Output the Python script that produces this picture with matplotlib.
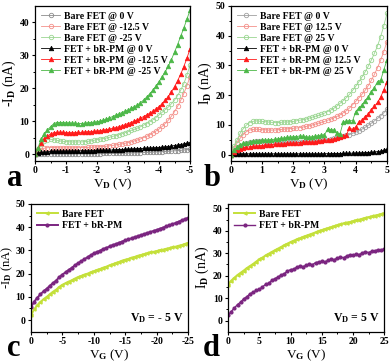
import matplotlib
matplotlib.use("Agg")
import matplotlib.pyplot as plt
import numpy as np

plt.rcParams['font.family'] = 'Liberation Serif'
plt.rcParams['font.weight'] = 'bold'
plt.rcParams['axes.unicode_minus'] = False
plt.rcParams['mathtext.fontset'] = 'custom'
plt.rcParams['mathtext.rm'] = 'Liberation Serif:bold'
plt.rcParams['mathtext.it'] = 'Liberation Serif:bold'
plt.rcParams['mathtext.bf'] = 'Liberation Serif:bold'

# drain voltage grid (0.1 V steps) for panels a and b
vd = np.linspace(0, 5, 51)
# gate voltage grid (0.5 V steps) for panels c and d
vg = np.linspace(0, 25, 51)

# ---- panel a : -ID vs VD (negative gate) ----
a_bare_0 = [0, 0.05, 0.08, 0.1, 0.1, 0.1, 0.1, 0.1, 0.1, 0.1, 0.1,
            0.1, 0.1, 0.12, 0.12, 0.12, 0.15, 0.15, 0.15, 0.15, 0.18,
            0.18, 0.2, 0.2, 0.22, 0.25, 0.25, 0.28, 0.3, 0.32, 0.35,
            0.38, 0.4, 0.42, 0.45, 0.5, 0.52, 0.56, 0.6, 0.65, 0.7,
            0.75, 0.8, 0.85, 0.92, 1.0, 1.08, 1.15, 1.25, 1.35, 1.5]
a_bare_125 = [0, 0.8, 1.4, 1.8, 1.95, 2.0, 2.0, 1.95, 1.9, 1.9, 1.9,
              1.9, 1.9, 1.95, 1.95, 2.0, 2.0, 2.05, 2.1, 2.15, 2.2,
              2.25, 2.3, 2.4, 2.5, 2.65, 2.8, 2.95, 3.1, 3.3, 3.5,
              3.75, 4.0, 4.3, 4.6, 5.0, 5.4, 5.9, 6.4, 7.0, 7.6,
              8.4, 9.3, 10.3, 11.5, 12.9, 14.5, 16.3, 18.4, 20.8, 23.5]
a_bare_25 = [0, 1.5, 3.0, 4.0, 4.4, 4.5, 4.4, 4.2, 4.0, 3.9, 3.8,
             3.75, 3.7, 3.7, 3.7, 3.7, 3.8, 3.9, 4.0, 4.2, 4.4,
             4.6, 4.7, 4.9, 5.1, 5.4, 5.6, 5.9, 6.2, 6.5, 6.8,
             7.2, 7.5, 7.9, 8.3, 8.8, 9.3, 9.8, 10.4, 11.1, 11.9,
             12.7, 13.5, 14.3, 15.3, 16.4, 17.8, 19.4, 21.4, 24.0, 27.0]
a_br_0 = [0, 0.3, 0.5, 0.6, 0.7, 0.8, 0.8, 0.85, 0.85, 0.9, 0.9,
          0.9, 0.95, 0.95, 0.95, 1.0, 1.0, 1.0, 1.05, 1.05, 1.1,
          1.1, 1.15, 1.2, 1.2, 1.25, 1.3, 1.35, 1.4, 1.45, 1.5,
          1.55, 1.6, 1.65, 1.7, 1.75, 1.8, 1.85, 1.9, 1.95, 2.0,
          2.1, 2.2, 2.3, 2.45, 2.6, 2.75, 2.9, 3.1, 3.3, 3.5]
a_br_125 = [0, 1.8, 3.5, 4.7, 5.5, 6.1, 6.5, 6.6, 6.6, 6.6, 6.5,
            6.5, 6.5, 6.5, 6.6, 6.6, 6.7, 6.8, 6.8, 6.9, 7.0,
            7.1, 7.3, 7.4, 7.6, 7.8, 8.0, 8.3, 8.6, 8.9, 9.3,
            9.6, 10.0, 10.4, 10.9, 11.4, 11.9, 12.4, 13.0, 13.7, 14.4,
            15.3, 16.3, 17.5, 18.9, 20.5, 22.3, 24.3, 26.6, 29.1, 32.0]
a_br_25 = [0, 2.0, 4.5, 6.0, 7.3, 8.3, 9.2, 9.6, 9.6, 9.6, 9.5,
           9.5, 9.4, 9.4, 9.3, 9.3, 9.4, 9.5, 9.6, 9.7, 9.8,
           10.0, 10.3, 10.6, 11.0, 11.4, 11.8, 12.2, 12.6, 13.0, 13.4,
           13.9, 14.4, 14.9, 15.6, 16.4, 17.3, 18.3, 19.4, 20.6, 22.0,
           23.5, 25.0, 26.7, 28.7, 31.0, 33.3, 35.8, 38.3, 41.0, 43.7]

# ---- panel b : ID vs VD (positive gate) ----
b_bare_0 = [0, 1.1, 2.0, 2.8, 3.4, 3.9, 4.2, 4.4, 4.5, 4.5, 4.5,
            4.4, 4.4, 4.3, 4.2, 4.1, 4.1, 4.1, 4.2, 4.2, 4.2,
            4.3, 4.3, 4.4, 4.4, 4.5, 4.6, 4.7, 4.8, 4.9, 5.0,
            5.1, 5.3, 5.5, 5.7, 5.9, 6.2, 6.5, 6.8, 7.2, 7.6,
            8.1, 8.6, 9.2, 9.9, 10.6, 11.4, 12.2, 13.1, 14.1, 15.3]
b_bare_125 = [0, 2.2, 4.0, 5.6, 6.8, 7.8, 8.3, 8.5, 8.6, 8.5, 8.4,
              8.4, 8.3, 8.3, 8.3, 8.4, 8.5, 8.6, 8.7, 8.8, 8.9,
              9.0, 9.1, 9.3, 9.5, 9.7, 10.0, 10.3, 10.6, 10.9, 11.2,
              11.6, 12.0, 12.4, 12.9, 13.4, 14.1, 14.8, 15.7, 16.8, 17.9,
              19.1, 20.3, 21.6, 23.2, 25.0, 27.0, 29.3, 31.8, 34.7, 38.0]
b_bare_25 = [0, 2.8, 5.0, 7.3, 8.8, 10.0, 10.8, 11.2, 11.4, 11.3, 11.2,
             11.1, 11.0, 10.9, 10.8, 10.8, 10.9, 11.0, 11.0, 11.1, 11.2,
             11.4, 11.6, 11.8, 12.0, 12.3, 12.6, 12.9, 13.2, 13.6, 14.0,
             14.5, 15.0, 15.6, 16.4, 17.3, 18.2, 19.2, 20.3, 21.6, 23.0,
             24.5, 26.1, 27.8, 29.7, 31.8, 34.1, 36.6, 39.7, 43.3, 47.5]
b_br_0 = [0, 0.2, 0.25, 0.3, 0.3, 0.3, 0.3, 0.3, 0.3, 0.3, 0.3,
          0.3, 0.3, 0.3, 0.3, 0.3, 0.3, 0.3, 0.3, 0.3, 0.3,
          0.3, 0.3, 0.3, 0.3, 0.3, 0.3, 0.3, 0.3, 0.32, 0.35,
          0.35, 0.37, 0.4, 0.4, 0.42, 0.45, 0.48, 0.5, 0.52, 0.55,
          0.6, 0.65, 0.7, 0.75, 0.8, 0.9, 1.05, 1.2, 1.45, 1.8]
b_br_125 = [0, 1.0, 1.7, 2.0, 2.3, 2.5, 2.7, 2.8, 2.9, 3.0, 3.1,
            3.2, 3.3, 3.4, 3.5, 3.6, 3.6, 3.7, 3.8, 3.8, 3.9,
            4.0, 4.1, 4.2, 4.3, 4.3, 4.2, 4.3, 4.5, 4.7, 4.8,
            4.9, 5.1, 5.3, 5.6, 6.0, 6.2, 6.6, 9.0, 8.5, 9.3,
            11.0, 11.6, 12.8, 13.6, 15.0, 16.3, 17.6, 19.4, 21.8, 24.6]
b_br_25 = [0, 1.7, 2.6, 3.4, 3.8, 4.1, 4.3, 4.5, 4.6, 4.7, 4.8,
           4.9, 5.0, 5.1, 5.2, 5.3, 5.5, 5.6, 5.8, 5.9, 6.0,
           6.1, 6.3, 6.2, 6.0, 5.9, 6.0, 6.2, 6.4, 6.6, 6.7,
           8.6, 8.4, 8.3, 7.2, 7.1, 11.0, 11.2, 11.5, 11.4, 14.5,
           15.8, 16.6, 18.2, 19.4, 21.2, 22.6, 24.6, 25.0, 28.5, 31.8]

# ---- panel c : -ID vs VG at VD = -5 V ----
c_bare = [2.0, 4.6, 6.4, 7.8, 9.0, 10.0,
          11.1, 12.2, 13.1, 14.3, 15.2,
          15.9, 16.6, 17.1, 17.9, 18.5,
          19.0, 19.6, 20.0, 20.6, 21.0,
          21.6, 22.0, 22.6, 23.0, 23.6,
          24.0, 24.6, 25.0, 25.6, 26.0,
          26.3, 26.9, 27.2, 27.7, 28.0,
          28.4, 28.7, 29.1, 29.4, 29.7,
          30.1, 30.3, 30.7, 30.9, 31.3,
          31.6, 32.0, 32.3, 32.8, 33.2]
c_br = [5.5, 7.9, 9.6, 11.1, 12.4, 13.5,
        14.8, 15.9, 17.0, 18.5, 19.6,
        20.6, 21.6, 22.5, 23.6, 24.5,
        25.4, 26.2, 27.1, 27.9, 28.7,
        29.3, 29.9, 30.6, 31.1, 31.7,
        32.3, 32.7, 33.3, 33.8, 34.3,
        34.8, 35.2, 35.7, 36.1, 36.6,
        37.0, 37.5, 37.9, 38.4, 38.8,
        39.3, 39.8, 40.3, 40.8, 41.3,
        41.8, 42.4, 42.9, 43.5, 44.0]

# ---- panel d : ID vs VG at VD = 5 V ----
d_bare = [16.0, 17.8, 19.1, 20.3, 21.3, 22.3,
          23.4, 24.3, 25.2, 26.3, 27.3,
          28.1, 29.0, 29.8, 30.6, 31.3,
          32.1, 32.8, 33.6, 34.3, 35.0,
          35.6, 36.2, 36.6, 37.3, 37.8,
          38.3, 38.8, 39.3, 39.9, 40.3,
          40.8, 41.2, 41.6, 42.1, 42.5,
          42.9, 43.3, 43.7, 43.9, 44.3,
          44.7, 45.0, 45.4, 45.8, 46.1,
          46.4, 46.8, 47.1, 47.5, 47.8]
d_br = [2.5, 4.0, 5.6, 7.1, 8.2, 9.7,
        10.6, 11.9, 12.6, 13.4, 13.9,
        15.0, 16.1, 16.6, 17.9, 18.7,
        19.4, 20.3, 20.9, 22.0, 22.7,
        22.9, 23.8, 24.3, 24.0, 24.6,
        25.2, 24.9, 25.8, 26.1, 26.4,
        26.0, 26.9, 27.4, 27.1, 27.9,
        28.3, 28.0, 28.8, 29.3, 29.1,
        29.6, 29.4, 30.1, 30.7, 30.3,
        30.9, 31.0, 31.6, 31.3, 32.0]

gray = '#8c8c8c'
salmon = '#f4908a'
lgreen = '#9ad691'
red = '#ff1a1a'
green = '#4cb848'
lime = '#c4e03a'
purple = '#7b2580'

fig = plt.figure(figsize=(3.92, 3.63), dpi=100)
axa = fig.add_axes([0.0893, 0.5573, 0.3954, 0.4262])
axb = fig.add_axes([0.589, 0.5573, 0.398, 0.4262])
axc = fig.add_axes([0.079, 0.0862, 0.401, 0.352])
axd = fig.add_axes([0.582, 0.0862, 0.398, 0.352])


def style(ax):
    ax.tick_params(direction='out', length=2.5, width=0.8, labelsize=7, pad=1.5)
    ax.tick_params(which='minor', direction='out', length=1.5, width=0.7)
    for s in ax.spines.values():
        s.set_linewidth(0.9)
    for lab in ax.get_xticklabels() + ax.get_yticklabels():
        lab.set_fontweight('bold')


def ivcurve(ax, x, y, c, m, lbl):
    filled = m == '^'
    ax.plot(x, y, color=c, lw=0.6, marker=m, ms=3.2, mew=0.6,
            mfc=c if filled else 'none', mec=c, label=lbl)


# panel a
neg = -vd
ivcurve(axa, neg, a_bare_0, gray, 'o', 'Bare FET @ 0 V')
ivcurve(axa, neg, a_bare_125, salmon, 'o', 'Bare FET @ -12.5 V')
ivcurve(axa, neg, a_bare_25, lgreen, 'o', 'Bare FET @ -25 V')
ivcurve(axa, neg, a_br_0, 'black', '^', 'FET + bR-PM @ 0 V')
ivcurve(axa, neg, a_br_125, red, '^', 'FET + bR-PM @ -12.5 V')
ivcurve(axa, neg, a_br_25, green, '^', 'FET + bR-PM @ -25 V')
axa.set_xlim(0, -5)
axa.set_ylim(-2, 45)
axa.set_xticks([0, -1, -2, -3, -4, -5])
axa.set_xticks(np.arange(-0.5, -5, -1), minor=True)
axa.set_yticks([0, 10, 20, 30, 40])
axa.set_yticks([5, 15, 25, 35], minor=True)
axa.set_xlabel(r'V$_\mathrm{D}$ (V)', fontsize=9.5, labelpad=1)
axa.set_ylabel(r'-I$_\mathrm{D}$ (nA)', fontsize=10, labelpad=1)
style(axa)
axa.legend(loc='upper left', frameon=False, handlelength=2.0,
           handletextpad=0.4, labelspacing=0.2, borderaxespad=0.2,
           prop={'weight': 'bold', 'size': 7})

# panel b
ivcurve(axb, vd, b_bare_0, '#a0a0a0', 'o', 'Bare FET @ 0 V')
ivcurve(axb, vd, b_bare_125, salmon, 'o', 'Bare FET @ 12.5 V')
ivcurve(axb, vd, b_bare_25, lgreen, 'o', 'Bare FET @ 25 V')
ivcurve(axb, vd, b_br_0, 'black', '^', 'FET + bR-PM @ 0 V')
ivcurve(axb, vd, b_br_125, red, '^', 'FET + bR-PM @ 12.5 V')
ivcurve(axb, vd, b_br_25, green, '^', 'FET + bR-PM @ 25 V')
axb.set_xlim(0, 5)
axb.set_ylim(-2, 50)
axb.set_xticks([0, 1, 2, 3, 4, 5])
axb.set_xticks(np.arange(0.5, 5, 1), minor=True)
axb.set_yticks([0, 10, 20, 30, 40, 50])
axb.set_yticks([5, 15, 25, 35, 45], minor=True)
axb.set_xlabel(r'V$_\mathrm{D}$ (V)', fontsize=9.5, labelpad=1)
axb.set_ylabel(r'I$_\mathrm{D}$ (nA)', fontsize=10, labelpad=1)
style(axb)
axb.legend(loc='upper left', frameon=False, handlelength=2.0,
           handletextpad=0.4, labelspacing=0.2, borderaxespad=0.2,
           prop={'weight': 'bold', 'size': 7})

# panel c
axc.plot(-vg, c_bare, color=lime, lw=1.4, marker='<', ms=2.2, label='Bare FET')
axc.plot(-vg, c_br, color=purple, lw=1.4, marker='o', ms=2.0, label='FET + bR-PM')
axc.set_xlim(0, -25)
axc.set_ylim(-5, 50)
axc.set_xticks([0, -5, -10, -15, -20, -25])
axc.set_xticks(np.arange(-2.5, -25, -5), minor=True)
axc.set_yticks([0, 10, 20, 30, 40, 50])
axc.set_yticks([5, 15, 25, 35, 45], minor=True)
axc.set_xlabel(r'V$_\mathrm{G}$ (V)', fontsize=9.5, labelpad=1)
axc.set_ylabel(r'-I$_\mathrm{D}$ (nA)', fontsize=9)
axc.yaxis.set_label_coords(-0.1, 0.5)
axc.text(0.97, 0.05, r'V$_\mathrm{D}$ = - 5 V', transform=axc.transAxes,
         ha='right', va='bottom', fontsize=8.5, fontweight='bold')
style(axc)
axc.legend(loc='upper left', frameon=False, handlelength=2.2,
           handletextpad=0.4, labelspacing=0.25, borderaxespad=0.2,
           prop={'weight': 'bold', 'size': 7})

# panel d
axd.plot(vg, d_bare, color=lime, lw=1.4, marker='<', ms=2.2, label='Bare FET')
axd.plot(vg, d_br, color=purple, lw=1.0, marker='o', ms=2.0, label='FET + bR-PM')
axd.set_xlim(0, 25)
axd.set_ylim(-5, 52)
axd.set_xticks([0, 5, 10, 15, 20, 25])
axd.set_xticks(np.arange(2.5, 25, 5), minor=True)
axd.set_yticks([0, 10, 20, 30, 40, 50])
axd.set_yticks([5, 15, 25, 35, 45], minor=True)
axd.set_xlabel(r'V$_\mathrm{G}$ (V)', fontsize=9.5, labelpad=1)
axd.set_ylabel(r'I$_\mathrm{D}$ (nA)', fontsize=10, labelpad=1)
axd.text(0.97, 0.05, r'V$_\mathrm{D}$ = 5 V', transform=axd.transAxes,
         ha='right', va='bottom', fontsize=8.5, fontweight='bold')
style(axd)
axd.legend(loc='upper left', frameon=False, handlelength=2.2,
           handletextpad=0.4, labelspacing=0.25, borderaxespad=0.2,
           prop={'weight': 'bold', 'size': 7})

# panel letters
for x, y, s in [(0.018, 0.487, 'a'), (0.52, 0.487, 'b'),
                (0.018, 0.018, 'c'), (0.518, 0.018, 'd')]:
    fig.text(x, y, s, fontsize=22, fontweight='bold', va='baseline')

fig.savefig('out.png', dpi=100)
